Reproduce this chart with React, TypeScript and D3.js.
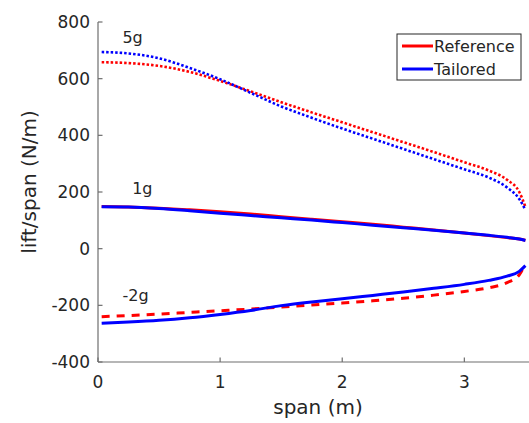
import React from "react";
import * as d3 from "d3";

const spanX = [0.03, 0.25, 0.5, 0.75, 1.0, 1.25, 1.5, 1.75, 2.0, 2.25, 2.5, 2.75, 3.0, 3.2, 3.35, 3.45, 3.5];

const ref5g = [658, 655, 645, 624, 592, 555, 517, 481, 446, 411, 376, 341, 305, 276, 243, 200, 148];
const tail5g = [694, 689, 672, 638, 598, 550, 502, 462, 424, 388, 352, 316, 280, 251, 216, 175, 137];
const ref1g = [149, 147, 143, 137, 130, 122, 113, 104, 95, 86, 76, 66, 55, 46, 39, 34, 30];
const tail1g = [148, 147, 142, 134, 125, 117, 109, 101, 92, 83, 74, 65, 55, 47, 40, 34, 29];
const refM2g = [-240, -236, -231, -225, -219, -213, -206, -199, -192, -184, -175, -164, -151, -138, -120, -92, -52];
const tailM2g = [-263, -259, -253, -244, -232, -218, -201, -188, -177, -165, -153, -140, -126, -112, -97, -80, -60];

const xTicks = [0, 1, 2, 3];
const yTicks = [-400, -200, 0, 200, 400, 600, 800];
const loadLabels = [
  { text: "5g", x: 0.2, y: 727 },
  { text: "1g", x: 0.28, y: 194 },
  { text: "-2g", x: 0.2, y: -186 },
];
const legendItems = [
  { name: "Reference", color: "#ff0000" },
  { name: "Tailored", color: "#0000ff" },
];

const W = 529;
const H = 423;
const FONT = "'DejaVu Sans', sans-serif";

export default function App() {
  const x = d3.scaleLinear().domain([0, 3.5]).range([98, 525.4]);
  const y = d3.scaleLinear().domain([-400, 800]).range([362, 22]);
  const line = d3
    .line<number>()
    .x((_, i) => x(spanX[i]))
    .y((d) => y(d))
    .curve(d3.curveMonotoneX);

  const series = [
    { data: ref5g, color: "#ff0000", dash: "2.5 2", w: 2.6 },
    { data: tail5g, color: "#0000ff", dash: "2.5 2", w: 2.6 },
    { data: ref1g, color: "#ff0000", dash: undefined, w: 3 },
    { data: tail1g, color: "#0000ff", dash: undefined, w: 3 },
    { data: refM2g, color: "#ff0000", dash: "8 7", w: 3 },
    { data: tailM2g, color: "#0000ff", dash: undefined, w: 3 },
  ];

  const axisColor = "#6e6e6e";
  const textColor = "#262626";

  return (
    <svg
      width={W}
      height={H}
      style={{ position: "absolute", left: 0, top: 0, background: "#fff" }}
      fontFamily={FONT}
    >
      <rect x={0} y={0} width={W} height={H} fill="#fff" />
      {series.map((s, i) => (
        <path
          key={i}
          d={line(s.data) || ""}
          fill="none"
          stroke={s.color}
          strokeWidth={s.w}
          strokeDasharray={s.dash}
        />
      ))}
      {/* axes */}
      <line x1={x(0)} x2={x(0)} y1={y(800)} y2={y(-400)} stroke={axisColor} strokeWidth={1.2} />
      <line x1={x(0)} x2={W} y1={y(-400)} y2={y(-400)} stroke={axisColor} strokeWidth={1.2} />
      {yTicks.map((t) => (
        <g key={"y" + t}>
          <line x1={x(0)} x2={x(0) + 4.5} y1={y(t)} y2={y(t)} stroke={axisColor} strokeWidth={1.2} />
          <text x={x(0) - 8} y={y(t)} dy="0.36em" textAnchor="end" fontSize={17} fill={textColor}>
            {t}
          </text>
        </g>
      ))}
      {xTicks.map((t) => (
        <g key={"x" + t}>
          <line x1={x(t)} x2={x(t)} y1={y(-400)} y2={y(-400) - 4.5} stroke={axisColor} strokeWidth={1.2} />
          <text x={x(t)} y={388} textAnchor="middle" fontSize={17} fill={textColor}>
            {t}
          </text>
        </g>
      ))}
      <text x={318} y={414} textAnchor="middle" fontSize={20} fill={textColor}>
        span (m)
      </text>
      <text
        transform={`translate(36, 182) rotate(-90)`}
        textAnchor="middle"
        fontSize={20}
        fill={textColor}
      >
        lift/span (N/m)
      </text>
      {loadLabels.map((l) => (
        <text key={l.text} x={x(l.x)} y={y(l.y)} fontSize={16} fill={textColor}>
          {l.text}
        </text>
      ))}
      {/* legend */}
      <rect x={397} y={34} width={124} height={46} fill="#fff" stroke={textColor} strokeWidth={1} />
      {legendItems.map((it, i) => (
        <g key={it.name}>
          <line x1={402} x2={433} y1={46 + i * 23} y2={46 + i * 23} stroke={it.color} strokeWidth={3} />
          <text x={434} y={46 + i * 23} dy="0.36em" fontSize={16} fill={textColor}>
            {it.name}
          </text>
        </g>
      ))}
    </svg>
  );
}
